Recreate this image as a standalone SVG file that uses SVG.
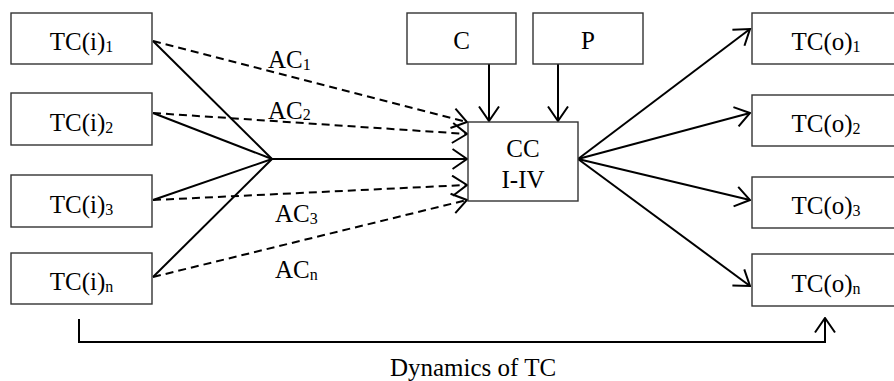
<svg xmlns="http://www.w3.org/2000/svg" width="894" height="381" viewBox="0 0 894 381">
<defs>
<marker id="ah" viewBox="0 0 17 22" refX="15.5" refY="11" markerWidth="17" markerHeight="22" markerUnits="userSpaceOnUse" orient="auto">
<path d="M1,1 L15.5,11 L1,21" fill="none" stroke="#000" stroke-width="2" stroke-dasharray="none"/>
</marker>
</defs>
<style>
.box{fill:#fff;stroke:#333;stroke-width:1.4}
.t{font-family:"Liberation Serif","Times New Roman",serif;font-size:25px;fill:#000;text-anchor:middle}
.l{font-family:"Liberation Serif","Times New Roman",serif;font-size:25px;fill:#000}
.sub{font-size:16px}
.ln{fill:none;stroke:#000;stroke-width:2}
.dash{fill:none;stroke:#000;stroke-width:2;stroke-dasharray:8 5}
</style>
<rect width="894" height="381" fill="#fff"/>
<g id="connectors">
<line class="ln" x1="153" y1="41" x2="272" y2="159"/>
<line class="ln" x1="153" y1="113" x2="272" y2="159"/>
<line class="ln" x1="153" y1="200" x2="272" y2="159"/>
<line class="ln" x1="153" y1="277" x2="272" y2="159"/>
<line class="ln" x1="272" y1="159" x2="467" y2="159" marker-end="url(#ah)"/>
<line class="dash" x1="153" y1="41" x2="467" y2="122" marker-end="url(#ah)"/>
<line class="dash" x1="153" y1="113" x2="467" y2="134" marker-end="url(#ah)"/>
<line class="dash" x1="153" y1="200" x2="467" y2="185" marker-end="url(#ah)"/>
<line class="dash" x1="153" y1="277" x2="467" y2="200" marker-end="url(#ah)"/>
<line class="ln" x1="489" y1="64" x2="489" y2="121" marker-end="url(#ah)"/>
<line class="ln" x1="558" y1="64" x2="558" y2="121" marker-end="url(#ah)"/>
<line class="ln" x1="578" y1="159" x2="750" y2="29" marker-end="url(#ah)"/>
<line class="ln" x1="578" y1="159" x2="750" y2="113" marker-end="url(#ah)"/>
<line class="ln" x1="578" y1="159" x2="750" y2="200" marker-end="url(#ah)"/>
<line class="ln" x1="578" y1="159" x2="750" y2="286" marker-end="url(#ah)"/>
<polyline class="ln" points="79,319 79,342 825,342 825,318" marker-end="url(#ah)"/>
<text class="l" x="268" y="68">AC<tspan class="sub" dy="2">1</tspan></text>
<text class="l" x="268" y="119">AC<tspan class="sub" font-size="18" dy="1">2</tspan></text>
<text class="l" x="275" y="222">AC<tspan class="sub" dy="2">3</tspan></text>
<text class="l" x="275" y="278">AC<tspan class="sub" dy="2">n</tspan></text>
<text class="t" x="473" y="376">Dynamics of TC</text>
</g>
<g id="tci1"><rect class="box" x="11" y="13" width="141" height="51"/><text class="t" x="81.5" y="50">TC(i)<tspan class="sub" dy="2">1</tspan></text></g>
<g id="tci2"><rect class="box" x="11" y="93" width="141" height="52"/><text class="t" x="81.5" y="130.5">TC(i)<tspan class="sub" dy="2">2</tspan></text></g>
<g id="tci3"><rect class="box" x="11" y="175" width="141" height="52"/><text class="t" x="81.5" y="212.5">TC(i)<tspan class="sub" dy="2">3</tspan></text></g>
<g id="tcin"><rect class="box" x="11" y="253" width="141" height="51"/><text class="t" x="81.5" y="290">TC(i)<tspan class="sub" dy="2">n</tspan></text></g>
<g id="c"><rect class="box" x="407" y="13" width="109" height="51"/><text class="t" x="461.5" y="49">C</text></g>
<g id="p"><rect class="box" x="533" y="13" width="110" height="51"/><text class="t" x="588" y="49">P</text></g>
<g id="cc"><rect class="box" x="468" y="122" width="110" height="79"/><text class="t" x="523" y="157">CC</text><text class="t" x="523" y="188">I-IV</text></g>
<g id="tco1"><rect class="box" x="752" y="13" width="150" height="51"/><text class="t" x="826" y="50">TC(o)<tspan class="sub" dy="2">1</tspan></text></g>
<g id="tco2"><rect class="box" x="752" y="95" width="150" height="51"/><text class="t" x="826" y="132">TC(o)<tspan class="sub" dy="2">2</tspan></text></g>
<g id="tco3"><rect class="box" x="752" y="177" width="150" height="51"/><text class="t" x="826" y="214">TC(o)<tspan class="sub" dy="2">3</tspan></text></g>
<g id="tcon"><rect class="box" x="752" y="254" width="150" height="52"/><text class="t" x="826" y="291.5">TC(o)<tspan class="sub" dy="2">n</tspan></text></g>
</svg>
